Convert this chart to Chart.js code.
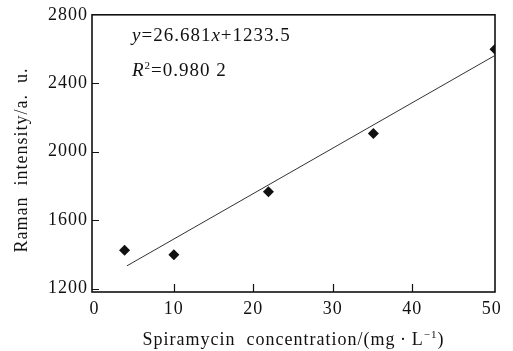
<!DOCTYPE html>
<html>
<head>
<meta charset="utf-8">
<script src="https://cdn.jsdelivr.net/npm/chart.js@4.4.0/dist/chart.umd.min.js"></script>
<style>
html, body { margin: 0; padding: 0; background: #fff; }
#wrap { width: 513px; height: 351px; }
</style>
</head>
<body>
<div id="wrap"><canvas id="c" width="513" height="351"></canvas></div>
<script>
// spiramycin concentration (mg/L) vs Raman intensity (a.u.)
var concentration = [3.8, 10, 21.9, 35.1, 50.4];
var intensity = [1424, 1397, 1766, 2107, 2598];
// ends of the fitted line
var fitX = [4.1, 50.3];
var fitY = [1333, 2560];

var xTicks = [0, 10, 20, 30, 40, 50];
var yTicks = [1200, 1600, 2000, 2400, 2800];
var xMarks = [10, 20, 30, 40];
var yMarks = [1200, 1600, 2000, 2400];

var FONT = '"Liberation Serif", "Times New Roman", serif';
var INK = '#111';

// draws text pieces one after another (italic / superscript)
function drawRuns(ctx, x, y, runs, size) {
  runs.forEach(function (r) {
    var s = r.sup ? Math.round(size * 0.6) : size;
    ctx.font = (r.i ? 'italic ' : '') + s + 'px ' + FONT;
    ctx.fillText(r.t, x, r.sup ? y - size * 0.38 : y);
    x += ctx.measureText(r.t).width;
  });
  return x;
}
function runsWidth(ctx, runs, size) {
  var w = 0;
  runs.forEach(function (r) {
    var s = r.sup ? Math.round(size * 0.6) : size;
    ctx.font = (r.i ? 'italic ' : '') + s + 'px ' + FONT;
    w += ctx.measureText(r.t).width;
  });
  return w;
}

var decor = {
  id: 'decor',
  beforeDraw: function (chart) {
    // the printed font is a bit wider than Liberation Serif
    chart.ctx.letterSpacing = '1px';
  },
  afterDraw: function (chart) {
    var ctx = chart.ctx, a = chart.chartArea;
    var xs = chart.scales.x, ys = chart.scales.y;
    ctx.save();
    ctx.letterSpacing = '1px';
    ctx.strokeStyle = INK;
    // frame
    ctx.lineWidth = 1.6;
    ctx.strokeRect(a.left, a.top, a.right - a.left, a.bottom - a.top);
    // inner tick marks
    ctx.lineWidth = 1.2;
    ctx.beginPath();
    xMarks.forEach(function (v) {
      var px = Math.round(xs.getPixelForValue(v)) + 0.5;
      ctx.moveTo(px, a.bottom);
      ctx.lineTo(px, a.bottom - 8);
    });
    yMarks.forEach(function (v) {
      var py = Math.round(ys.getPixelForValue(v)) + 0.5;
      ctx.moveTo(a.left, py);
      ctx.lineTo(a.left + 7, py);
    });
    ctx.stroke();

    ctx.fillStyle = INK;
    ctx.textBaseline = 'alphabetic';
    ctx.textAlign = 'left';
    // equation
    drawRuns(ctx, 132, 41, [{t: 'y', i: true}, {t: '=26.681'}, {t: 'x', i: true}, {t: '+1233.5'}], 19);
    drawRuns(ctx, 132, 76, [{t: 'R', i: true}, {t: '2', sup: true}, {t: '=0.980 2'}], 19);

    // x title
    var xt = [{t: 'Spiramycin  concentration/(mg\u2009\u00b7\u2009L'}, {t: '\u22121', sup: true}, {t: ')'}];
    var w = runsWidth(ctx, xt, 18);
    drawRuns(ctx, (a.left + a.right) / 2 - w / 2, 345, xt, 18);

    // y title
    var yt = [{t: 'Raman  intensity/a.  u.'}];
    var wy = runsWidth(ctx, yt, 18);
    ctx.translate(27, 160);
    ctx.rotate(-Math.PI / 2);
    drawRuns(ctx, -wy / 2, 0, yt, 18);
    ctx.restore();
  }
};

new Chart(document.getElementById('c'), {
  type: 'scatter',
  data: {
    datasets: [{
      label: 'measured',
      data: concentration.map(function (c, i) { return {x: c, y: intensity[i]}; }),
      pointStyle: 'rectRot',
      pointRadius: 5.5,
      backgroundColor: INK,
      borderColor: INK,
      borderWidth: 0
    }, {
      label: 'fit',
      type: 'line',
      data: fitX.map(function (c, i) { return {x: c, y: fitY[i]}; }),
      borderColor: '#333',
      borderWidth: 1,
      pointRadius: 0,
      fill: false
    }]
  },
  options: {
    responsive: false,
    animation: false,
    layout: { padding: { top: 12, right: 18, left: 0, bottom: 0 } },
    plugins: { legend: { display: false }, tooltip: { enabled: false } },
    scales: {
      x: {
        type: 'linear',
        min: -0.3,
        max: 50.4,
        afterBuildTicks: function (s) { s.ticks = xTicks.map(function (v) { return {value: v}; }); },
        afterFit: function (s) { s.height = 59; },
        grid: { display: false, drawTicks: false },
        border: { display: false },
        ticks: {
          color: INK, padding: 6, maxRotation: 0,
          font: { family: FONT, size: 18 },
          callback: function (v) { return String(v); }
        }
      },
      y: {
        min: 1180,
        max: 2800,
        afterBuildTicks: function (s) { s.ticks = yTicks.map(function (v) { return {value: v}; }); },
        afterFit: function (s) { s.width = 92; },
        grid: { display: false, drawTicks: false },
        border: { display: false },
        ticks: {
          color: INK, padding: 4,
          font: { family: FONT, size: 18 },
          callback: function (v) { return String(v); }
        }
      }
    }
  },
  plugins: [decor]
});
</script>
</body>
</html>
